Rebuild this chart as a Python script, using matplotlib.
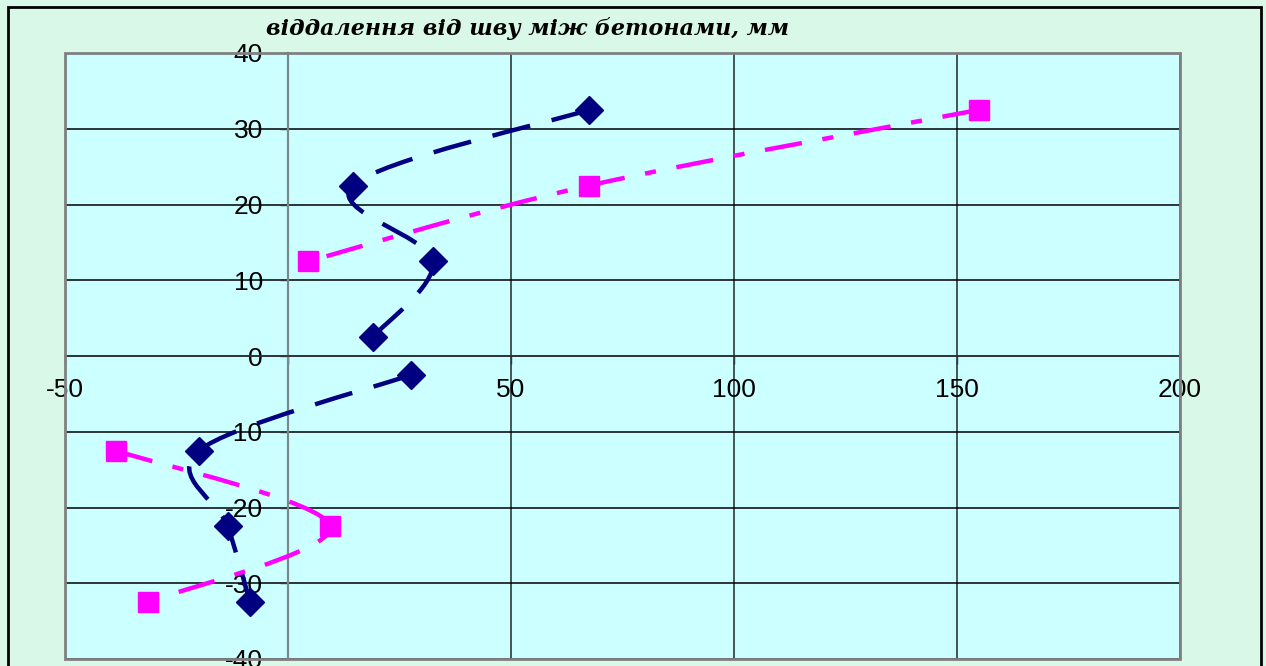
import numpy as np
import matplotlib
matplotlib.use("Agg")
import matplotlib.pyplot as plt
from matplotlib.path import Path
from matplotlib.patches import PathPatch, Rectangle

plt.rcParams['font.family'] = ['Liberation Sans', 'DejaVu Sans']
plt.rcParams['axes.unicode_minus'] = False
plt.rcParams['lines.scale_dashes'] = False

# depth levels (y) and the two measured series (x), nan = empty cell
DEPTH = [32.5, 22.5, 12.5, 2.5, 0.0, -2.5, -12.5, -22.5, -32.5]
BLUE_X = [67.5, 14.5, 32.5, 19.0, np.nan, 27.5, -20.0, -13.5, -8.5]
PINK_X = [155.0, 67.5, 4.5, np.nan, np.nan, np.nan, -38.5, 9.5, -31.5]

X_TICKS = [-50, 0, 50, 100, 150, 200]
Y_TICKS = [-40, -30, -20, -10, 0, 10, 20, 30, 40]
TITLE = "віддалення від шву між бетонами, мм"

BLUE = "#000080"
PINK = "#FF00FF"
FIG_BG = "#D9F8E7"
PLOT_BG = "#CCFFFF"


def smoothPath(xs, ys):
    # Excel-like smoothed line: Catmull-Rom converted to cubic bezier
    pts = np.column_stack([xs, ys])
    n = len(pts)
    verts = [pts[0]]
    codes = [Path.MOVETO]
    for i in range(n - 1):
        p0 = pts[i - 1] if i > 0 else pts[i]
        p1 = pts[i]
        p2 = pts[i + 1]
        p3 = pts[i + 2] if i + 2 < n else pts[i + 1]
        verts += [p1 + (p2 - p0) / 6.0, p2 - (p3 - p1) / 6.0, p2]
        codes += [Path.CURVE4] * 3
    return Path(verts, codes)


def pieces(xs, ys):
    out, cur = [], []
    for x, y in zip(xs, ys):
        if np.isnan(x):
            if len(cur) > 1:
                out.append(cur)
            cur = []
        else:
            cur.append((x, y))
    if len(cur) > 1:
        out.append(cur)
    return out


def drawSeries(ax, xs, ys, color, dashes, marker, ms):
    for part in pieces(xs, ys):
        px, py = zip(*part)
        patch = PathPatch(smoothPath(px, py), fill=False, edgecolor=color,
                          linewidth=3.2, linestyle=(0, dashes), zorder=3,
                          capstyle='butt')
        ax.add_patch(patch)
    x = np.array(xs)
    y = np.array(ys)
    ok = ~np.isnan(x)
    ax.plot(x[ok], y[ok], linestyle='none', marker=marker, markersize=ms,
            color=color, markeredgecolor=color, zorder=4, clip_on=False)


W, H = 1266, 666
fig = plt.figure(figsize=(W / 100, H / 100), dpi=100, facecolor=FIG_BG)
left, right, top, bottom = 65, 1180, 53, 659
ax = fig.add_axes([left / W, 1 - bottom / H, (right - left) / W, (bottom - top) / H])
ax.set_facecolor(PLOT_BG)

ax.set_xlim(-50, 200)
ax.set_ylim(-40, 40)
ax.set_xticks(X_TICKS)
ax.set_xticklabels([str(t) if t != 0 else "" for t in X_TICKS])
ax.set_yticks(Y_TICKS)

ax.spines['top'].set_visible(False)
ax.spines['right'].set_visible(False)
ax.spines['left'].set_position(('data', 0))
ax.spines['bottom'].set_position(('data', 0))
ax.spines['left'].set_color('#7A8A8A')
ax.spines['left'].set_linewidth(1.6)
ax.spines['bottom'].set_color('#303838')
ax.spines['bottom'].set_linewidth(1.2)

ax.yaxis.grid(True, color='black', linewidth=1.1)
ax.xaxis.grid(True, color='#3A4848', linewidth=1.3)
ax.set_axisbelow(True)

ax.tick_params(axis='both', direction='out', length=6, width=1,
               color='#303838', labelsize=19, labelcolor='black')
ax.tick_params(axis='y', pad=12)
ax.tick_params(axis='x', pad=10)

# plot area border
ax.add_patch(Rectangle((0, 0), 1, 1, transform=ax.transAxes, fill=False,
                       edgecolor='#808080', linewidth=2, zorder=5, clip_on=False))

drawSeries(ax, BLUE_X, DEPTH, BLUE, (28, 16), 'D', 14)
drawSeries(ax, PINK_X, DEPTH, PINK, (27, 15, 8, 15), 's', 15)

fig.text(527 / W, 1 - 28 / H, TITLE, ha='center', va='center', fontsize=16,
         fontweight='bold', fontstyle='italic', family=['DejaVu Serif'])

# outer chart border
fig.add_artist(Rectangle((8 / W, -0.1), (1261 - 8) / W, 1.1 - 7 / H,
                         transform=fig.transFigure, fill=False,
                         edgecolor='black', linewidth=2))

fig.savefig('out.png', dpi=100, facecolor=FIG_BG)
